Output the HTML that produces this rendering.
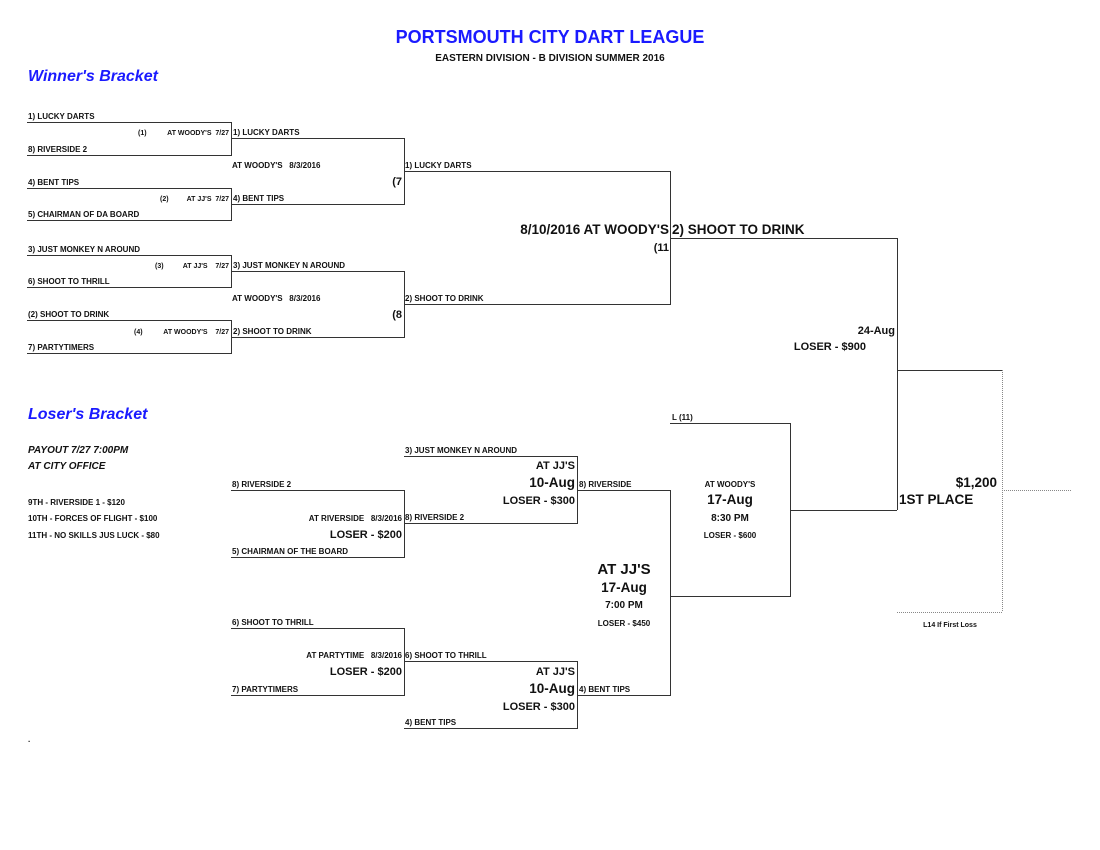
<!DOCTYPE html>
<html><head><meta charset="utf-8"><style>
html,body{margin:0;padding:0;background:#fff;}
svg{display:block;}
text{font-family:"Liberation Sans",sans-serif;font-weight:bold;fill:#111;}
.s{font-size:8px;}
.xs{font-size:7px;}
.m{font-size:11px;}
.l{font-size:13.5px;}
.b{fill:#1a1aff;}
.i{font-style:italic;}
.r{text-anchor:end;}
.c{text-anchor:middle;}
line{stroke:#333;stroke-width:1;}
.d{stroke:#888;stroke-dasharray:1,1;}
</style></head><body>
<svg width="1100" height="850" viewBox="0 0 1100 850" xmlns="http://www.w3.org/2000/svg">
<text x="550" y="43" class="c b" style="font-size:18px">PORTSMOUTH CITY DART LEAGUE</text>
<text x="550" y="61" class="c" style="font-size:10px">EASTERN DIVISION - B DIVISION SUMMER 2016</text>
<text x="28" y="81" class="b i" style="font-size:16px">Winner's Bracket</text>
<text x="28" y="419" class="b i" style="font-size:16px">Loser's Bracket</text>

<g>
<line x1="27" y1="122.5" x2="231" y2="122.5"/><line x1="27" y1="155.5" x2="231" y2="155.5"/><line x1="231.5" y1="122" x2="231.5" y2="156"/>
<line x1="27" y1="188.5" x2="231" y2="188.5"/><line x1="27" y1="220.5" x2="231" y2="220.5"/><line x1="231.5" y1="188" x2="231.5" y2="221"/>
<line x1="27" y1="255.5" x2="231" y2="255.5"/><line x1="27" y1="287.5" x2="231" y2="287.5"/><line x1="231.5" y1="255" x2="231.5" y2="288"/>
<line x1="27" y1="320.5" x2="231" y2="320.5"/><line x1="27" y1="353.5" x2="231" y2="353.5"/><line x1="231.5" y1="320" x2="231.5" y2="354"/>
<line x1="231" y1="138.5" x2="404" y2="138.5"/><line x1="231" y1="204.5" x2="404" y2="204.5"/><line x1="404.5" y1="138" x2="404.5" y2="205"/>
<line x1="231" y1="271.5" x2="404" y2="271.5"/><line x1="231" y1="337.5" x2="404" y2="337.5"/><line x1="404.5" y1="271" x2="404.5" y2="338"/>
<line x1="404" y1="171.5" x2="670" y2="171.5"/><line x1="404" y1="304.5" x2="670" y2="304.5"/><line x1="670.5" y1="171" x2="670.5" y2="305"/>
<line x1="670" y1="238.5" x2="897" y2="238.5"/><line x1="897.5" y1="238" x2="897.5" y2="510"/>
<line x1="790" y1="510.5" x2="897" y2="510.5"/>
<line x1="897" y1="370.5" x2="1002" y2="370.5"/>
<line class="d" x1="1002.5" y1="370" x2="1002.5" y2="612"/>
<line class="d" x1="897" y1="612.5" x2="1002" y2="612.5"/>
<line class="d" x1="1002" y1="490.5" x2="1072" y2="490.5"/>
<line x1="231" y1="490.5" x2="404" y2="490.5"/><line x1="231" y1="557.5" x2="404" y2="557.5"/><line x1="404.5" y1="490" x2="404.5" y2="558"/>
<line x1="231" y1="628.5" x2="404" y2="628.5"/><line x1="231" y1="695.5" x2="404" y2="695.5"/><line x1="404.5" y1="628" x2="404.5" y2="696"/>
<line x1="404" y1="456.5" x2="577" y2="456.5"/><line x1="404" y1="523.5" x2="577" y2="523.5"/><line x1="577.5" y1="456" x2="577.5" y2="524"/>
<line x1="404" y1="661.5" x2="577" y2="661.5"/><line x1="404" y1="728.5" x2="577" y2="728.5"/><line x1="577.5" y1="661" x2="577.5" y2="729"/>
<line x1="577" y1="490.5" x2="670" y2="490.5"/><line x1="577" y1="695.5" x2="670" y2="695.5"/><line x1="670.5" y1="490" x2="670.5" y2="696"/>
<line x1="670" y1="423.5" x2="790" y2="423.5"/><line x1="670" y1="596.5" x2="790" y2="596.5"/><line x1="790.5" y1="423" x2="790.5" y2="597"/>
</g>

<text x="28" y="119" class="s">1) LUCKY DARTS</text>
<text x="28" y="152" class="s">8) RIVERSIDE 2</text>
<text x="28" y="185" class="s">4) BENT TIPS</text>
<text x="28" y="217" class="s">5) CHAIRMAN OF DA BOARD</text>
<text x="28" y="252" class="s">3) JUST MONKEY N AROUND</text>
<text x="28" y="284" class="s">6) SHOOT TO THRILL</text>
<text x="28" y="317" class="s">(2) SHOOT TO DRINK</text>
<text x="28" y="350" class="s">7) PARTYTIMERS</text>

<text x="138" y="135" class="xs">(1)</text><text x="229" y="135" class="xs r">AT WOODY'S&#160; 7/27</text>
<text x="160" y="201" class="xs">(2)</text><text x="229" y="201" class="xs r">AT JJ'S&#160; 7/27</text>
<text x="155" y="268" class="xs">(3)</text><text x="229" y="268" class="xs r">AT JJ'S&#160;&#160;&#160; 7/27</text>
<text x="134" y="334" class="xs">(4)</text><text x="229" y="334" class="xs r">AT WOODY'S&#160;&#160;&#160; 7/27</text>

<text x="233" y="135" class="s">1) LUCKY DARTS</text>
<text x="233" y="201" class="s">4) BENT TIPS</text>
<text x="233" y="268" class="s">3) JUST MONKEY N AROUND</text>
<text x="233" y="334" class="s">2) SHOOT TO DRINK</text>
<text x="232" y="168" class="s">AT WOODY'S&#160;&#160; 8/3/2016</text>
<text x="232" y="301" class="s">AT WOODY'S&#160;&#160; 8/3/2016</text>
<text x="402" y="185" class="m r">(7</text>
<text x="402" y="318" class="m r">(8</text>
<text x="405" y="168" class="s">1) LUCKY DARTS</text>
<text x="405" y="301" class="s">2) SHOOT TO DRINK</text>
<text x="669" y="234" class="l r">8/10/2016 AT WOODY'S</text>
<text x="672" y="234" class="l">2) SHOOT TO DRINK</text>
<text x="669" y="251" class="m r">(11</text>
<text x="895" y="334" class="m r">24-Aug</text>
<text x="866" y="350" class="m r">LOSER - $900</text>

<text x="28" y="453" class="i" style="font-size:10px">PAYOUT 7/27 7:00PM</text>
<text x="28" y="469" class="i" style="font-size:10px">AT CITY OFFICE</text>
<text x="28" y="505" class="s">9TH - RIVERSIDE 1 - $120</text>
<text x="28" y="521" class="s">10TH - FORCES OF FLIGHT - $100</text>
<text x="28" y="538" class="s">11TH - NO SKILLS JUS LUCK - $80</text>
<text x="232" y="487" class="s">8) RIVERSIDE 2</text>
<text x="232" y="554" class="s">5) CHAIRMAN OF THE BOARD</text>
<text x="402" y="521" class="s r">AT RIVERSIDE&#160;&#160; 8/3/2016</text>
<text x="402" y="538" class="m r">LOSER - $200</text>
<text x="232" y="625" class="s">6) SHOOT TO THRILL</text>
<text x="232" y="692" class="s">7) PARTYTIMERS</text>
<text x="402" y="658" class="s r">AT PARTYTIME&#160;&#160; 8/3/2016</text>
<text x="402" y="675" class="m r">LOSER - $200</text>
<text x="405" y="520" class="s">8) RIVERSIDE 2</text>
<text x="405" y="658" class="s">6) SHOOT TO THRILL</text>
<text x="405" y="453" class="s">3) JUST MONKEY N AROUND</text>
<text x="405" y="725" class="s">4) BENT TIPS</text>
<text x="575" y="469" class="m r">AT JJ'S</text>
<text x="575" y="487" class="l r">10-Aug</text>
<text x="575" y="504" class="m r">LOSER - $300</text>
<text x="575" y="675" class="m r">AT JJ'S</text>
<text x="575" y="693" class="l r">10-Aug</text>
<text x="575" y="710" class="m r">LOSER - $300</text>
<text x="579" y="487" class="s">8) RIVERSIDE</text>
<text x="579" y="692" class="s">4) BENT TIPS</text>
<text x="624" y="574" class="c" style="font-size:15px">AT JJ'S</text>
<text x="624" y="592" class="c l">17-Aug</text>
<text x="624" y="608" class="c" style="font-size:10px">7:00 PM</text>
<text x="624" y="626" class="c s">LOSER - $450</text>
<text x="672" y="420" class="s">L (11)</text>
<text x="730" y="487" class="c s">AT WOODY'S</text>
<text x="730" y="504" class="c l">17-Aug</text>
<text x="730" y="521" class="c" style="font-size:10px">8:30 PM</text>
<text x="730" y="538" class="c s">LOSER - $600</text>
<text x="997" y="487" class="l r">$1,200</text>
<text x="899" y="504" class="l">1ST PLACE</text>
<text x="950" y="627" class="c xs">L14 If First Loss</text>
<text x="28" y="742" class="s">.</text>
</svg>
</body></html>
